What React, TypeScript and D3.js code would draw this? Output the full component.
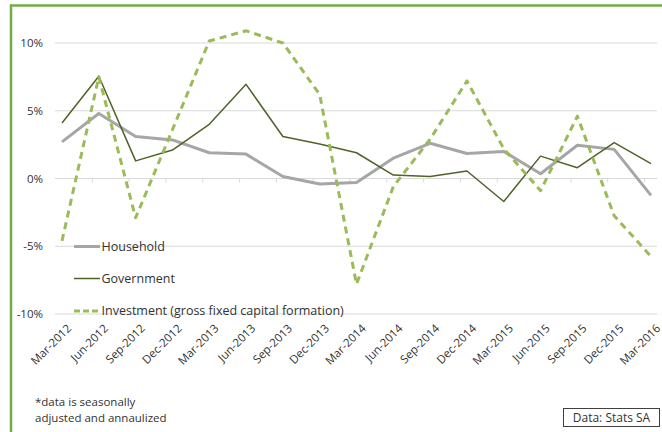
import React from "react";
import * as d3 from "d3";

const categories = ["Mar-2012","Jun-2012","Sep-2012","Dec-2012","Mar-2013","Jun-2013","Sep-2013","Dec-2013","Mar-2014","Jun-2014","Sep-2014","Dec-2014","Mar-2015","Jun-2015","Sep-2015","Dec-2015","Mar-2016"];
const household = [2.7, 4.8, 3.1, 2.85, 1.9, 1.8, 0.15, -0.4, -0.3, 1.5, 2.6, 1.85, 2.0, 0.35, 2.45, 2.15, -1.25];
const government = [4.1, 7.55, 1.3, 2.1, 4.0, 6.95, 3.1, 2.55, 1.9, 0.25, 0.15, 0.55, -1.7, 1.65, 0.8, 2.65, 1.1];
const investment = [-4.6, 7.5, -2.9, 3.6, 10.15, 10.9, 10.0, 6.2, -7.8, -0.6, 2.9, 7.2, 2.2, -0.9, 4.6, -2.75, -5.75];
const yTicks = [10, 5, 0, -5, -10];
const legendLabels = ["Household", "Government", "Investment (gross fixed capital formation)"];

const FONT = "'Open Sans', 'Noto Sans', sans-serif";

export default function App() {
  const x = d3.scalePoint<string>().domain(categories).range([62, 651]);
  const y = d3.scaleLinear().domain([-10, 10]).range([314, 43]);
  const line = d3.line<number>().x((_, i) => x(categories[i])!).y((d) => y(d));

  const series = [
    { name: legendLabels[0], data: household, color: "#a6a6a6", width: 3, dash: undefined as string | undefined },
    { name: legendLabels[1], data: government, color: "#4f6228", width: 1.5, dash: undefined as string | undefined },
    { name: legendLabels[2], data: investment, color: "#9bbb59", width: 3, dash: "7,5" },
  ];
  const legendY = [246.5, 278.5, 311];

  return (
    <svg width={662} height={432} style={{ position: "absolute", left: 0, top: 0, background: "#fff" }} fontFamily={FONT}>
      <rect x={0} y={0} width={662} height={432} fill="#fff" />
      {/* frame */}
      <line x1={10} x2={662} y1={5.5} y2={5.5} stroke="#70ad47" strokeWidth={2.5} />
      <line x1={11} x2={11} y1={4.5} y2={432} stroke="#70ad47" strokeWidth={2.5} />
      {/* gridlines */}
      {yTicks.map((t) => (
        <g key={t}>
          <line x1={55} x2={657} y1={y(t)} y2={y(t)} stroke="#d9d9d9" strokeWidth={1} />
          <text x={43} y={y(t)} dy="0.35em" textAnchor="end" fontSize={11.5} fill="#333">{t}%</text>
        </g>
      ))}
      {/* small ticks */}
      {categories.slice(1).map((c) => (
        <line key={c} x1={x(c)! - 6.5} x2={x(c)! - 6.5} y1={y(0)} y2={y(0) + 4} stroke="#d9d9d9" strokeWidth={1} />
      ))}
      {/* x labels */}
      {categories.map((c) => (
        <text key={c} transform={`translate(${x(c)! + 4},${323}) rotate(-45)`} textAnchor="end" dy="0.75em" fontSize={11.5} fill="#333">{c}</text>
      ))}
      {/* series */}
      {series.map((s) => (
        <path key={s.name} d={line(s.data)!} fill="none" stroke={s.color} strokeWidth={s.width} strokeDasharray={s.dash} strokeLinejoin="round" />
      ))}
      {/* legend */}
      {series.map((s, i) => (
        <g key={s.name}>
          <line x1={74} x2={100} y1={legendY[i]} y2={legendY[i]} stroke={s.color} strokeWidth={s.width} strokeDasharray={s.dash ? "6,3" : undefined} />
          <text x={101.5} y={legendY[i]} dy="0.35em" fontSize={12.5} fill="#333">{s.name}</text>
        </g>
      ))}
      {/* footnote */}
      <text x={35} y={402} dy="0.35em" fontSize={11.5} fill="#333">*data is seasonally</text>
      <text x={35} y={418} dy="0.35em" fontSize={11.5} fill="#333">adjusted and annaulized</text>
      {/* source box */}
      <rect x={563.5} y={408.5} width={96} height={18} fill="#fff" stroke="#404040" strokeWidth={1} />
      <text x={611.5} y={417.5} dy="0.35em" textAnchor="middle" fontSize={12} fill="#333">Data: Stats SA</text>
    </svg>
  );
}
